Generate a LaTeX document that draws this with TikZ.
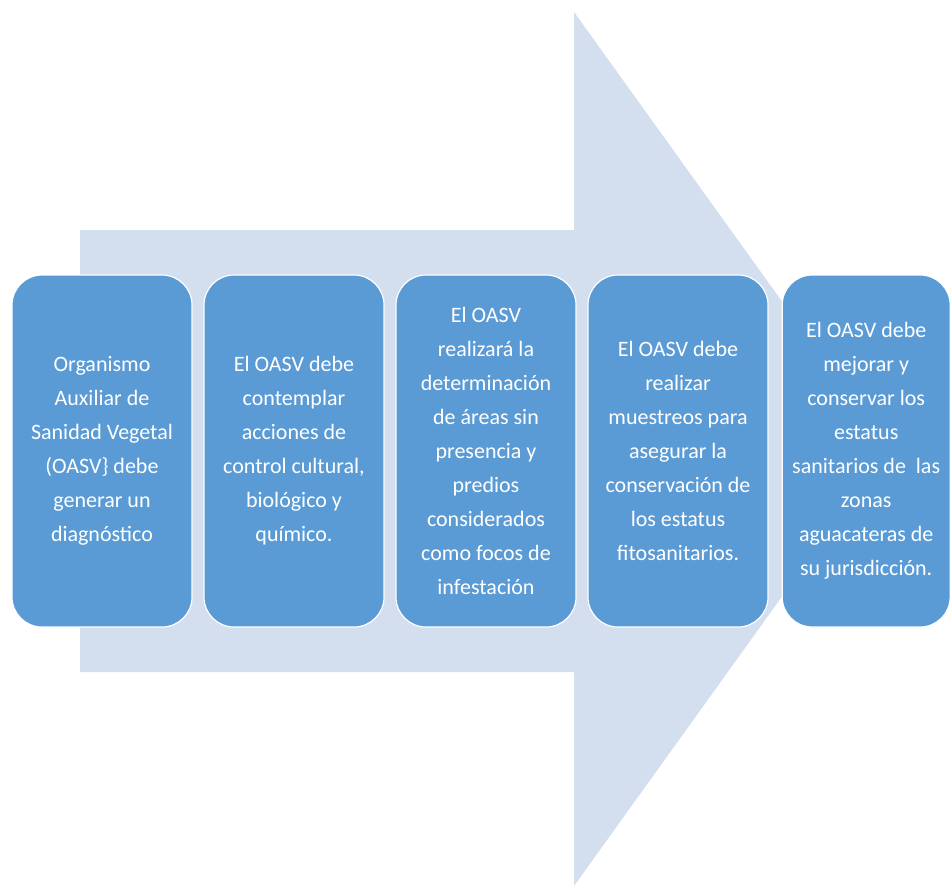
\documentclass[tikz,border=0pt]{standalone}
\usepackage{fontspec}
\setmainfont{Carlito}
\usepackage{tikz}
\usetikzlibrary{positioning}

\definecolor{arrowfill}{HTML}{D3DEEF}
\definecolor{boxfill}{HTML}{5B9BD5}

\begin{document}
\begin{tikzpicture}[x=1pt,y=1pt,node distance=192pt,
                        box node/.style={rectangle,rounded corners=30pt,draw=white,line width=1.2pt,
                        fill=boxfill,text=white,align=center,minimum width=180pt,minimum height=352pt,
                        inner sep=0pt,font=\fontsize{22}{34}\selectfont}]

      \useasboundingbox (0,0) rectangle (951,-886);

      % big arrow behind the boxes
      \fill[arrowfill] (80,-230) -- (574,-230) -- (574,-12) -- (888,-449)
        -- (574,-886) -- (574,-672) -- (80,-672) -- cycle;

      \node[box node] (1) at (102,-451) {Organismo\\Auxiliar de\\Sanidad Vegetal\\(OASV\} debe\\generar un\\diagnóstico};
      \node[box node] (2) [right of=1] {El OASV debe\\contemplar\\acciones de\\control cultural,\\biológico y\\químico.};
      \node[box node] (3) [right of=2] {El OASV\\realizará la\\determinación\\de áreas sin\\presencia y\\predios\\considerados\\como focos de\\infestación};
      \node[box node] (4) [right of=3] {El OASV debe\\realizar\\muestreos para\\asegurar la\\conservación de\\los estatus\\fitosanitarios.};
      \node[box node,minimum width=168pt] (5) [right=13pt of 4] {El OASV debe\\mejorar y\\conservar los\\estatus\\sanitarios de~ las\\zonas\\aguacateras de\\su jurisdicción.};
    \end{tikzpicture}
\end{document}
